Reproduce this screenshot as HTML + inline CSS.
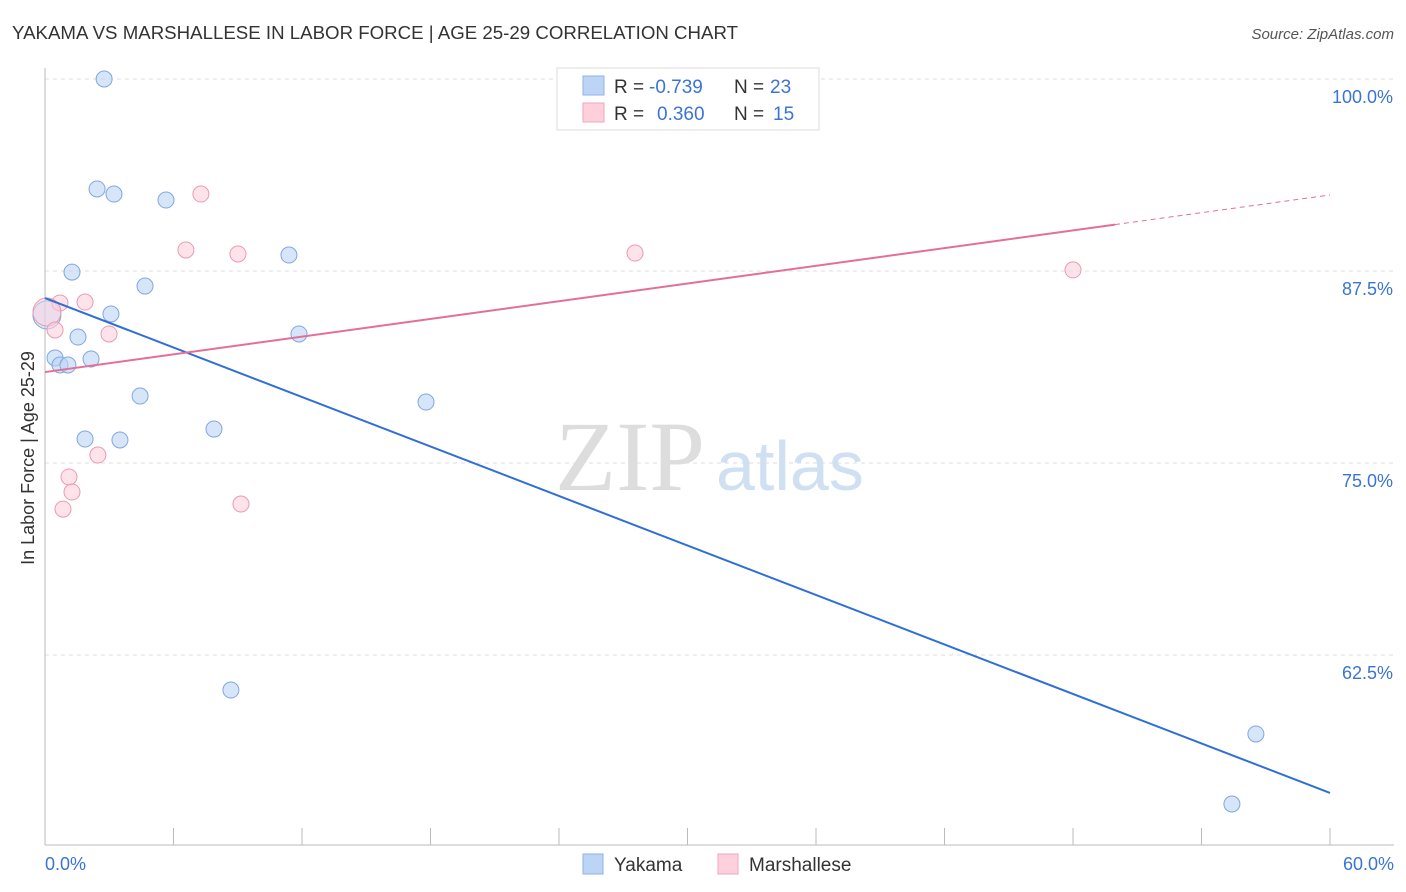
<!DOCTYPE html>
<html><head><meta charset="utf-8"><style>
body{margin:0;background:#fff;font-family:"Liberation Sans",sans-serif;}
svg{display:block}
</style></head><body>
<svg id="chart" width="1406" height="892">
<text x="12" y="39" font-size="18" fill="#333" textLength="726" lengthAdjust="spacingAndGlyphs">YAKAMA VS MARSHALLESE IN LABOR FORCE | AGE 25-29 CORRELATION CHART</text>
<text x="1394" y="39" font-size="15" fill="#555" text-anchor="end" font-style="italic">Source: ZipAtlas.com</text>
<text x="34" y="458" font-size="18" fill="#333" text-anchor="middle" transform="rotate(-90 34 458)">In Labor Force | Age 25-29</text>
<g id="grid"></g>
<text x="555" y="490" font-size="100" fill="#ddd" font-family="Liberation Serif,serif">ZIP</text>
<text x="716" y="490" font-size="70" fill="#cfe0f3">atlas</text>
<g id="marks"></g>
<g>
<rect x="557" y="68" width="262" height="62" fill="#fff" stroke="#ddd"/>
<rect x="583" y="76" width="21" height="19" fill="#bcd4f5" stroke="#8fb3e6"/>
<rect x="583" y="103" width="21" height="19" fill="#fdd0dc" stroke="#f0a6ba"/>
<text x="614" y="93" font-size="19" fill="#333">R =</text>
<text x="649" y="93" font-size="19" fill="#3a74d4">-0.739</text>
<text x="734" y="93" font-size="19" fill="#333">N =</text>
<text x="770" y="93" font-size="19" fill="#3a74d4">23</text>
<text x="614" y="120" font-size="19" fill="#333">R =</text>
<text x="657" y="120" font-size="19" fill="#3a74d4">0.360</text>
<text x="734" y="120" font-size="19" fill="#333">N =</text>
<text x="773" y="120" font-size="19" fill="#3a74d4">15</text>
</g>
<g>
<rect x="583" y="854" width="20" height="20" fill="#bcd4f5" stroke="#8fb3e6"/>
<text x="614" y="871" font-size="19" fill="#333">Yakama</text>
<rect x="718" y="854" width="20" height="20" fill="#fdd0dc" stroke="#f0a6ba"/>
<text x="749" y="871" font-size="19" fill="#333">Marshallese</text>
</g>
</svg>
<script>
const yTicks=[100,87.5,75,62.5];
const yTickLabels=["100.0%","87.5%","75.0%","62.5%"];
const xLabels=["0.0%","60.0%"];
const yakX=[2.76,2.43,3.22,5.65,1.26,11.39,4.67,3.08,1.54,11.86,0.47,2.15,0.70,1.07,4.44,17.79,1.87,3.50,7.89,8.68,56.54,55.42,0.09];
const yakY=[100,92.84,92.51,92.12,87.43,88.54,86.52,84.70,83.20,83.40,81.84,81.77,81.38,81.38,79.36,78.97,76.56,76.50,77.21,60.22,57.36,52.80,84.64];
const marX=[7.28,6.58,9.01,27.55,48.0,1.87,0.70,0.09,0.47,2.99,2.47,1.12,1.26,0.84,9.15];
const marY=[92.51,88.87,88.61,88.67,87.57,85.48,85.42,84.83,83.66,83.40,75.52,74.09,73.11,72.0,72.33];
const yakLine=[85.74,53.52];
const marLine=[80.92,92.45];
const marSolidEnd=49.96;
const NS="http://www.w3.org/2000/svg";
const X=v=>45+v/60*1285, Y=v=>79+(100-v)*15.36;
function mk(t,a,p){const e=document.createElementNS(NS,t);for(const k in a)e.setAttribute(k,a[k]);p.appendChild(e);return e;}
const g=document.getElementById('grid'),m=document.getElementById('marks');
yTicks.forEach((t,i)=>{
 const l=mk('line',{x1:45,x2:1394,y1:Y(t),y2:Y(t),stroke:'#ddd','stroke-dasharray':'4 4'},g);
 
 
 const tx=mk('text',{x:1393,y:Y(t)+24,'font-size':18,fill:'#3a74d4','text-anchor':'end'},g);tx.textContent=yTickLabels[i];
 
 
});
const ax=mk('line',{x1:45,x2:45,y1:68,y2:845,stroke:'#bbb'},g);


const bx=mk('line',{x1:45,x2:1394,y1:845,y2:845,stroke:'#bbb'},g);


for(let i=0;i<=10;i++){const t=mk('line',{x1:X(i*6),x2:X(i*6),y1:828,y2:845,stroke:'#bbb'},g);
 
 }
[[0,'start',45],[60,'end',1394]].forEach((d,i)=>{const t=mk('text',{x:d[2],y:870,'font-size':18,fill:'#3a74d4','text-anchor':d[1]},g);t.textContent=xLabels[i];
 
 });
function pts(xs,ys,f,s,name){xs.forEach((x,i)=>{const big=x<0.2;const c=mk('circle',{cx:X(x),cy:Y(ys[i]),r:big?14:8,fill:f,'fill-opacity':big?0.5:0.6,stroke:s,'stroke-width':1},m);
 
 });}
pts(yakX,yakY,'#bcd4f5','#7fa8e0','yakama-point');
pts(marX,marY,'#fdd0dc','#ec9ab1','marshallese-point');
const l1=mk('line',{x1:X(0),y1:Y(yakLine[0]),x2:X(60),y2:Y(yakLine[1]),stroke:'#2f6fd6','stroke-width':2},m);


const ym=v=>marLine[0]+(marLine[1]-marLine[0])*v/60;
const l2=mk('line',{x1:X(0),y1:Y(ym(0)),x2:X(marSolidEnd),y2:Y(ym(marSolidEnd)),stroke:'#e36f98','stroke-width':2},m);


const l3=mk('line',{x1:X(marSolidEnd),y1:Y(ym(marSolidEnd)),x2:X(60),y2:Y(ym(60)),stroke:'#e36f98','stroke-width':1,'stroke-dasharray':'5 4'},m);


</script>
</body></html>
